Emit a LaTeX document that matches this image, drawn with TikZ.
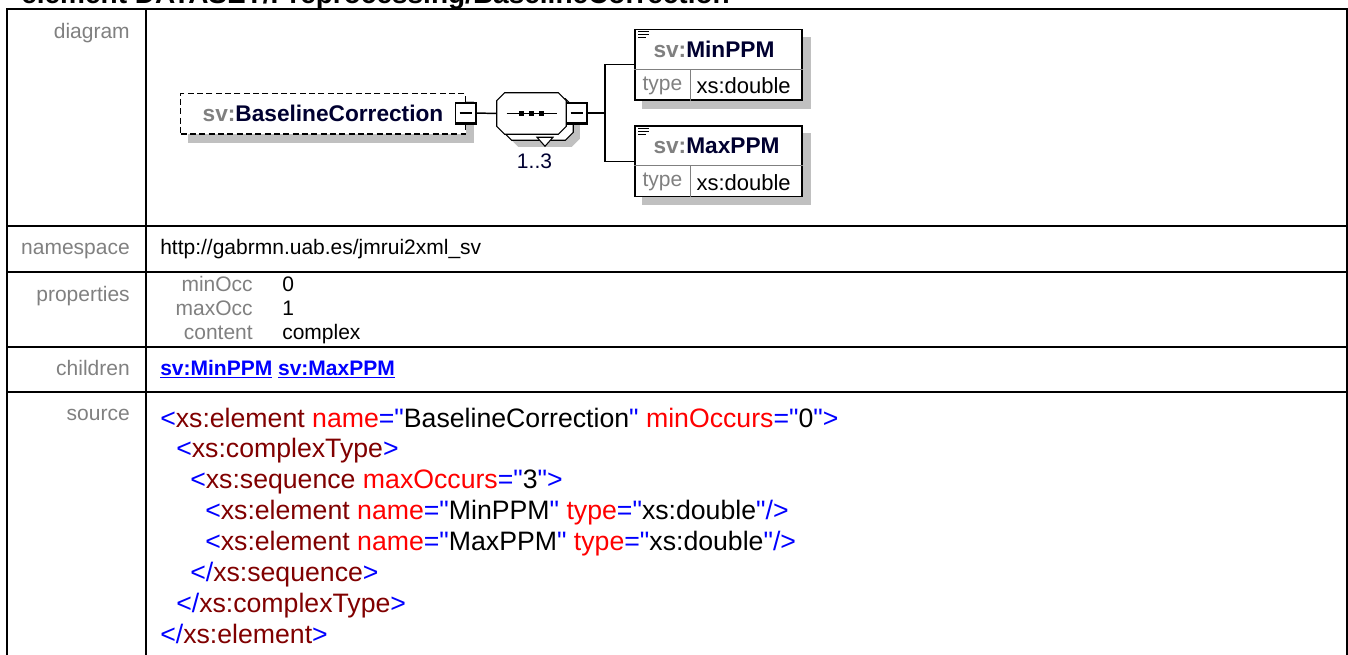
\documentclass[tikz,border=0pt]{standalone}
\usepackage{fontspec}
\setmainfont{Liberation Sans}[Ligatures=TeXOff]
\usetikzlibrary{calc,backgrounds}

\definecolor{labelgray}{RGB}{128,128,128}
\definecolor{navy}{RGB}{0,0,48}
\definecolor{shadowgray}{RGB}{192,192,192}
\definecolor{tagred}{RGB}{128,0,0}
\definecolor{attred}{RGB}{255,0,0}
\definecolor{xmlblue}{RGB}{0,0,255}

\newcommand{\lblfont}{\fontsize{15.75}{18}\selectfont}
\newcommand{\srcfont}{\fontsize{20}{24}\selectfont}
\newcommand{\elfont}{\fontsize{17}{19}\selectfont\bfseries}
\newcommand{\ttlfont}{\fontsize{21}{25}\selectfont\bfseries}
% xml source colouring
\newcommand{\dq}{\symbol{34}}
\newcommand{\pc}[1]{\textcolor{xmlblue}{#1}}
\newcommand{\tg}[1]{\textcolor{tagred}{#1}}
\newcommand{\at}[1]{\textcolor{attred}{#1}}
% octagon round a node
\newcommand{\octpath}[1]{($(#1.north west)+(8,0)$) -- ($(#1.north east)+(-8,0)$)
  -- ($(#1.north east)+(0,8)$) -- ($(#1.south east)+(0,-8)$) -- ($(#1.south east)+(-8,0)$)
  -- ($(#1.south west)+(8,0)$) -- ($(#1.south west)+(0,-8)$) -- ($(#1.north west)+(0,8)$) -- cycle}

\tikzset{
  tabline/.style={line width=1.5pt},
  lbl/.style={anchor=base east, inner sep=0, text=labelgray, font=\lblfont},
  val/.style={anchor=base west, inner sep=0, font=\lblfont},
  src/.style={anchor=base west, inner sep=0, font=\srcfont},
  elbox/.style={draw, fill=white, dash pattern=on 4.5pt off 2.5pt, line width=1.1pt,
    minimum width=213.75pt, minimum height=30.4pt, inner sep=0, text=navy, font=\elfont},
  minusbox/.style={draw, fill=white, line width=1.1pt, minimum size=15pt, inner sep=0,
    path picture={\draw[line width=0.9pt] ([xshift=3pt]path picture bounding box.west)
      -- ([xshift=-3pt]path picture bounding box.east);}},
  seqframe/.style={minimum width=51.75pt, minimum height=30.75pt, inner sep=0},
  octo/.style={draw, fill=white, line width=0.8pt},
  childbox/.style={draw, fill=white, line width=1.1pt, minimum width=125.25pt,
    minimum height=52.9pt, inner sep=0},
  conn/.style={line width=1.1pt},
  shade/.style={fill=shadowgray, draw=none}
}

\begin{document}
\begin{tikzpicture}[x=0.75pt,y=0.75pt,yscale=-1,xscale=1]
\useasboundingbox (0,0) rectangle (1348,654);

% title, cut by the page top
\node[anchor=base west, inner sep=0, font=\ttlfont] (ttl) at (21,3) {element DATASET/Preprocessing/BaselineCorrection};

% table frame
\draw[tabline] (6.5,660) -- (6.5,8.5) -- (1346.5,8.5) -- (1346.5,660);
\draw[tabline] (146,8.5) -- (146,660);
\foreach \yy in {226,271.5,346.5,391.5}
  \draw[tabline] (6.5,\yy) -- (1346.5,\yy);

% row labels
\node[lbl] (ldiag) at (130,38) {diagram};
\node[lbl] (lns) at (130,254) {namespace};
\node[lbl] (lprop) at (130,301) {properties};
\node[lbl] (lkids) at (130,375) {children};
\node[lbl] (lsrc) at (130,420) {source};

% namespace, properties, children
\node[val] (ns) at (160,254) {http://gabrmn.uab.es/jmrui2xml\_sv};
\node[lbl] (pmin) at (253,291) {minOcc};
\node[lbl] (pmax) at (253,315) {maxOcc};
\node[lbl] (pcont) at (253,339) {content};
\node[val] (vmin) at (282,291) {0};
\node[val] (vmax) at (282,315) {1};
\node[val] (vcont) at (282,339) {complex};
\node[val, text=xmlblue, font=\lblfont\bfseries] (kids) at (160,375) {\underline{sv:MinPPM} \underline{sv:MaxPPM}};

% source
\node[src] (src1) at (160,427) {\pc{<}\tg{xs:element} \at{name}\pc{=\dq}BaselineCorrection\pc{\dq} \at{minOccurs}\pc{=\dq}0\pc{\dq>}};
\node[src] (src2) at (176,457.9) {\pc{<}\tg{xs:complexType}\pc{>}};
\node[src] (src3) at (190,488.7) {\pc{<}\tg{xs:sequence} \at{maxOccurs}\pc{=\dq}3\pc{\dq>}};
\node[src] (src4) at (205,519.6) {\pc{<}\tg{xs:element} \at{name}\pc{=\dq}MinPPM\pc{\dq} \at{type}\pc{=\dq}xs:double\pc{\dq/>}};
\node[src] (src5) at (205,550.4) {\pc{<}\tg{xs:element} \at{name}\pc{=\dq}MaxPPM\pc{\dq} \at{type}\pc{=\dq}xs:double\pc{\dq/>}};
\node[src] (src6) at (190,581.3) {\pc{</}\tg{xs:sequence}\pc{>}};
\node[src] (src7) at (176,612.1) {\pc{</}\tg{xs:complexType}\pc{>}};
\node[src] (src8) at (160,643) {\pc{</}\tg{xs:element}\pc{>}};

% diagram: element
\node[elbox] (be) at (323,113.75) {\textcolor{labelgray}{sv:}BaselineCorrection};

% diagram: sequence compositor (stacked, 1..3)
\node[seqframe] (seqsh) at (545,126) {};
\node[seqframe] (seqbk) at (538.5,119.5) {};
\node[seqframe] (seq) at (531.5,113.5) {};
\fill[shade] \octpath{seqsh};
\draw[octo] \octpath{seqbk};
\draw[fill=white, line width=0.8pt] ($(seqbk.south)+(-1.5,-3)$) -- ++(16,0) -- ++(-8,9) -- cycle;
\draw[octo] \octpath{seq};
\draw[line width=0.9pt] ($(seq.center)+(-25,0)$) -- ($(seq.center)+(25,0)$);
\foreach \dx in {-10,0,10}
  \fill ($(seq.center)+(\dx-2.5,-2.5)$) rectangle ++(5,5);
\node[font=\lblfont, text=navy] (mult) at (534.5,161) {1..3};

% minus boxes
\node[minusbox] (bem) at (465.5,113) {};
\node[minusbox] (seqm) at (576.5,113) {};
\foreach \bx in {bem,seqm}
  \draw[line width=1.8pt] (\bx.north east) -- (\bx.south east) -- (\bx.south west);

% children
\foreach \nm/\txt/\yy in {minp/MinPPM/64.75,maxp/MaxPPM/161.35}{
  \node[childbox] (\nm) at (718.5,\yy) {};
  \draw[labelgray, line width=0.8pt] ($(\nm.north west)+(0,40.5)$) -- ($(\nm.north east)+(0,40.5)$);
  \draw[labelgray, line width=0.8pt] ($(\nm.north west)+(56,40.5)$) -- ($(\nm.south west)+(56,0)$);
  \node[anchor=west, inner sep=0, font=\elfont, text=navy] (\nm name) at ($(\nm.north west)+(19,20.5)$) {\textcolor{labelgray}{sv:}\txt};
  \node[anchor=west, inner sep=0, font=\lblfont, text=labelgray] (\nm type) at ($(\nm.south west)+(8,-15)$) {type};
  \node[anchor=west, inner sep=0, font=\fontsize{16.5}{19}\selectfont] (\nm val) at ($(\nm.south west)+(62,-15)$) {xs:double};
  \foreach \i/\len in {0/11,3/11,6/8}
    \draw[line width=0.8pt] ($(\nm.north west)+(4,3+\i)$) -- ++(\len,0);
}

% connectors
\coordinate (fork) at (605,113);
\draw[conn] (bem.east) -- (seq.west);
\draw[conn] (seqm.east) -- (fork);
\draw[conn] (minp.west) -| (fork) |- (maxp.west);

% shadows
\begin{scope}[on background layer]
\fill[shade] ($(be.north west)+(8,8)$) rectangle ($(be.south east)+(8,8)$);
\fill[shade] ($(minp.north west)+(8,8)$) rectangle ($(minp.south east)+(8,8)$);
\fill[shade] ($(maxp.north west)+(8,8)$) rectangle ($(maxp.south east)+(8,8)$);
\end{scope}
\end{tikzpicture}
\end{document}
